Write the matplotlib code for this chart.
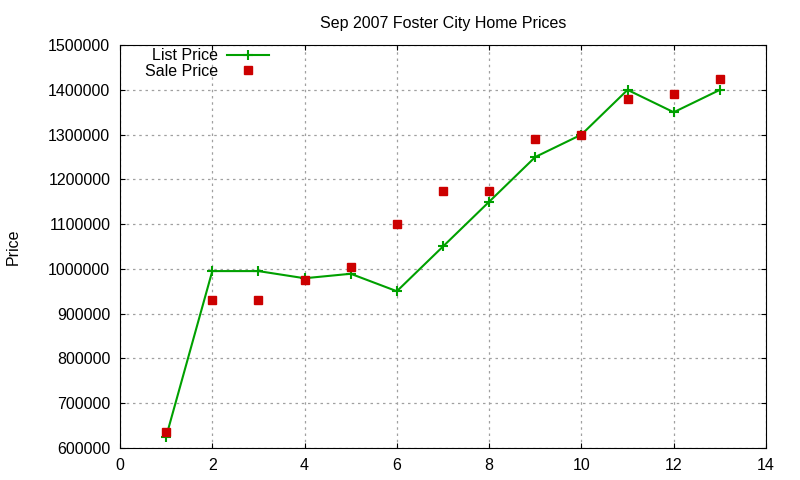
import matplotlib
matplotlib.use("Agg")
import matplotlib.pyplot as plt

plt.rcParams['font.family'] = ['Liberation Sans', 'DejaVu Sans']

# data
months = [1, 2, 3, 4, 5, 6, 7, 8, 9, 10, 11, 12, 13]
list_price = [625000, 995000, 995000, 979000, 989000, 950000, 1050000,
              1150000, 1250000, 1300000, 1400000, 1350000, 1400000]
sale_price = [635000, 930000, 930000, 975000, 1005000, 1100000, 1175000,
              1175000, 1290000, 1300000, 1380000, 1390000, 1425000]

fig = plt.figure(figsize=(8, 4.8), dpi=100)
ax = fig.add_axes([0.15, 0.067, 0.8075, 0.839])

ax.plot(months, list_price, color='#00a000', lw=1.5, marker='+', ms=7,
        mew=1.5, label='List Price')
ax.plot(months, sale_price, ls='none', color='#cc0000', marker='s', ms=6,
        label='Sale Price')

ax.set_xlim(0, 14)
ax.set_ylim(600000, 1500000)
ax.set_xticks(range(0, 15, 2))
ax.set_yticks(range(600000, 1500001, 100000))
ax.ticklabel_format(style='plain', axis='y', useOffset=False)
ax.tick_params(direction='in', top=True, right=True, labelsize=11.5,
               length=3.5, pad=7)
ax.grid(True, color='#a0a0a0', ls=(0, (2, 3)), lw=0.9)

ax.set_title('Sep 2007 Foster City Home Prices', fontsize=11.5, pad=12)
ax.set_ylabel('Price', fontsize=11.5)
ax.yaxis.set_label_coords(-0.154, 0.5)

leg = ax.legend(loc='upper left', bbox_to_anchor=(0.039, 0.992), frameon=False,
                markerfirst=False, fontsize=11.5, handlelength=2.6,
                handletextpad=0.55, borderpad=0, borderaxespad=0,
                labelspacing=0.02)
for t in leg.get_texts():
    t.set_ha('right')

fig.savefig('out.png', dpi=100)
